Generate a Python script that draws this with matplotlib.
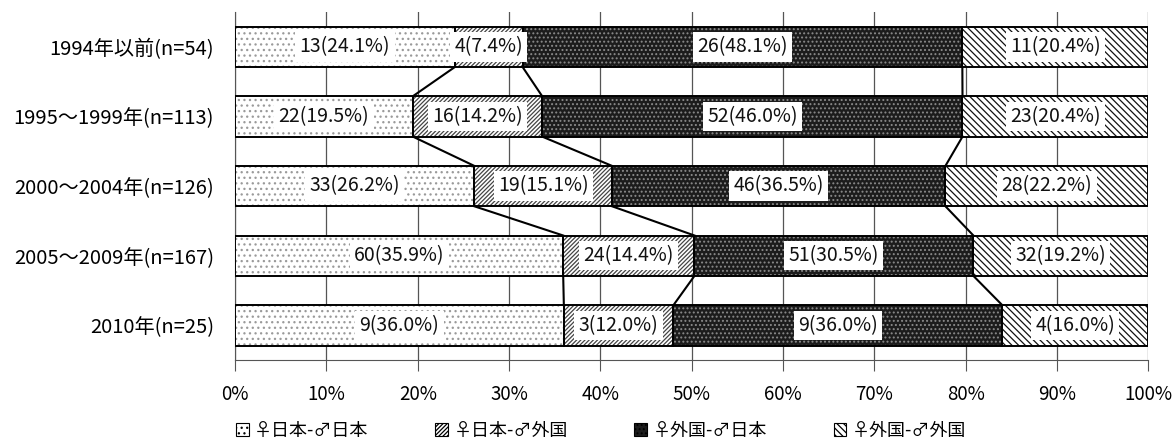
import matplotlib
matplotlib.use("Agg")
import matplotlib.pyplot as plt
from matplotlib.patches import Patch
import numpy as np

plt.rcParams['font.family'] = ['Noto Sans CJK JP', 'DejaVu Sans']
plt.rcParams['hatch.linewidth'] = 0.9

categories = ["1994年以前(n=54)", "1995〜1999年(n=113)", "2000〜2004年(n=126)",
              "2005〜2009年(n=167)", "2010年(n=25)"]
series_names = ["♀日本-♂日本", "♀日本-♂外国", "♀外国-♂日本", "♀外国-♂外国"]
jp_jp = [13, 22, 33, 60, 9]
jp_fr = [4, 16, 19, 24, 3]
fr_jp = [26, 52, 46, 51, 9]
fr_fr = [11, 23, 28, 32, 4]
x_ticks = [0, 10, 20, 30, 40, 50, 60, 70, 80, 90, 100]

counts = np.array([jp_jp, jp_fr, fr_jp, fr_fr], dtype=float)
totals = counts.sum(axis=0)
pcts = counts / totals * 100

styles = [
    dict(face="white", hatch="...", hcol="#9a9a9a"),
    dict(face="white", hatch="////////", hcol="#444444"),
    dict(face="#1c1c1c", hatch="....", hcol="#8a8a8a"),
    dict(face="white", hatch="\\\\\\\\\\", hcol="#111111"),
]

fig = plt.figure(figsize=(11.74, 4.43), dpi=100)
ax = fig.add_axes([0.2002, 0.187, 0.778, 0.786])

ypos = np.arange(len(categories))
bar_h = 0.58
left = np.zeros(len(categories))
cums = []
for s in range(4):
    st = styles[s]
    ax.barh(ypos, pcts[s], left=left, height=bar_h, color=st["face"],
            hatch=st["hatch"], edgecolor=st["hcol"], linewidth=0, zorder=3)
    ax.barh(ypos, pcts[s], left=left, height=bar_h, fill=False,
            edgecolor="black", linewidth=1.4, zorder=4)
    for i in range(len(categories)):
        cx = left[i] + pcts[s][i] / 2
        ax.text(cx, ypos[i], f"{int(counts[s][i])}({pcts[s][i]:.1f}%)",
                ha="center", va="center", fontsize=14, color="#111111", zorder=6,
                bbox=dict(boxstyle="square,pad=0.22", facecolor="white", edgecolor="none"))
    left = left + pcts[s]
    cums.append(left.copy())

# series lines joining the segment boundaries of adjacent bars
for k in range(3):
    c = cums[k]
    for i in range(len(categories) - 1):
        ax.plot([c[i], c[i + 1]], [ypos[i] + bar_h / 2, ypos[i + 1] - bar_h / 2],
                color="black", linewidth=1.5, zorder=5)

ax.set_xlim(0, 100)
ax.set_ylim(4.5, -0.5)
ax.set_xticks(x_ticks)
ax.set_xticklabels([f"{t}%" for t in x_ticks], fontsize=13.5)
ax.set_yticks(ypos)
ax.set_yticklabels(categories, fontsize=14.5)
ax.tick_params(axis="y", length=0, pad=15)
ax.tick_params(axis="x", length=8, direction="out", color="#555555", pad=9)
ax.grid(axis="x", color="#555555", linewidth=0.9, zorder=0)
for sp in ["top", "right"]:
    ax.spines[sp].set_visible(False)
ax.spines["left"].set_color("#555555")
ax.spines["bottom"].set_color("#555555")

handles = [Patch(facecolor=st["face"], hatch=st["hatch"], edgecolor=st["hcol"],
                 linewidth=0.8) for st in styles]
leg = fig.legend(handles, series_names, loc="lower center", ncol=4,
                 bbox_to_anchor=(0.512, -0.022), frameon=False, fontsize=13,
                 handlelength=0.7, handleheight=0.7, columnspacing=3.7, handletextpad=0.3,
                 borderpad=0.2)
for h in leg.legend_handles:
    h.set_edgecolor("black")

fig.savefig("out.png", dpi=100)
